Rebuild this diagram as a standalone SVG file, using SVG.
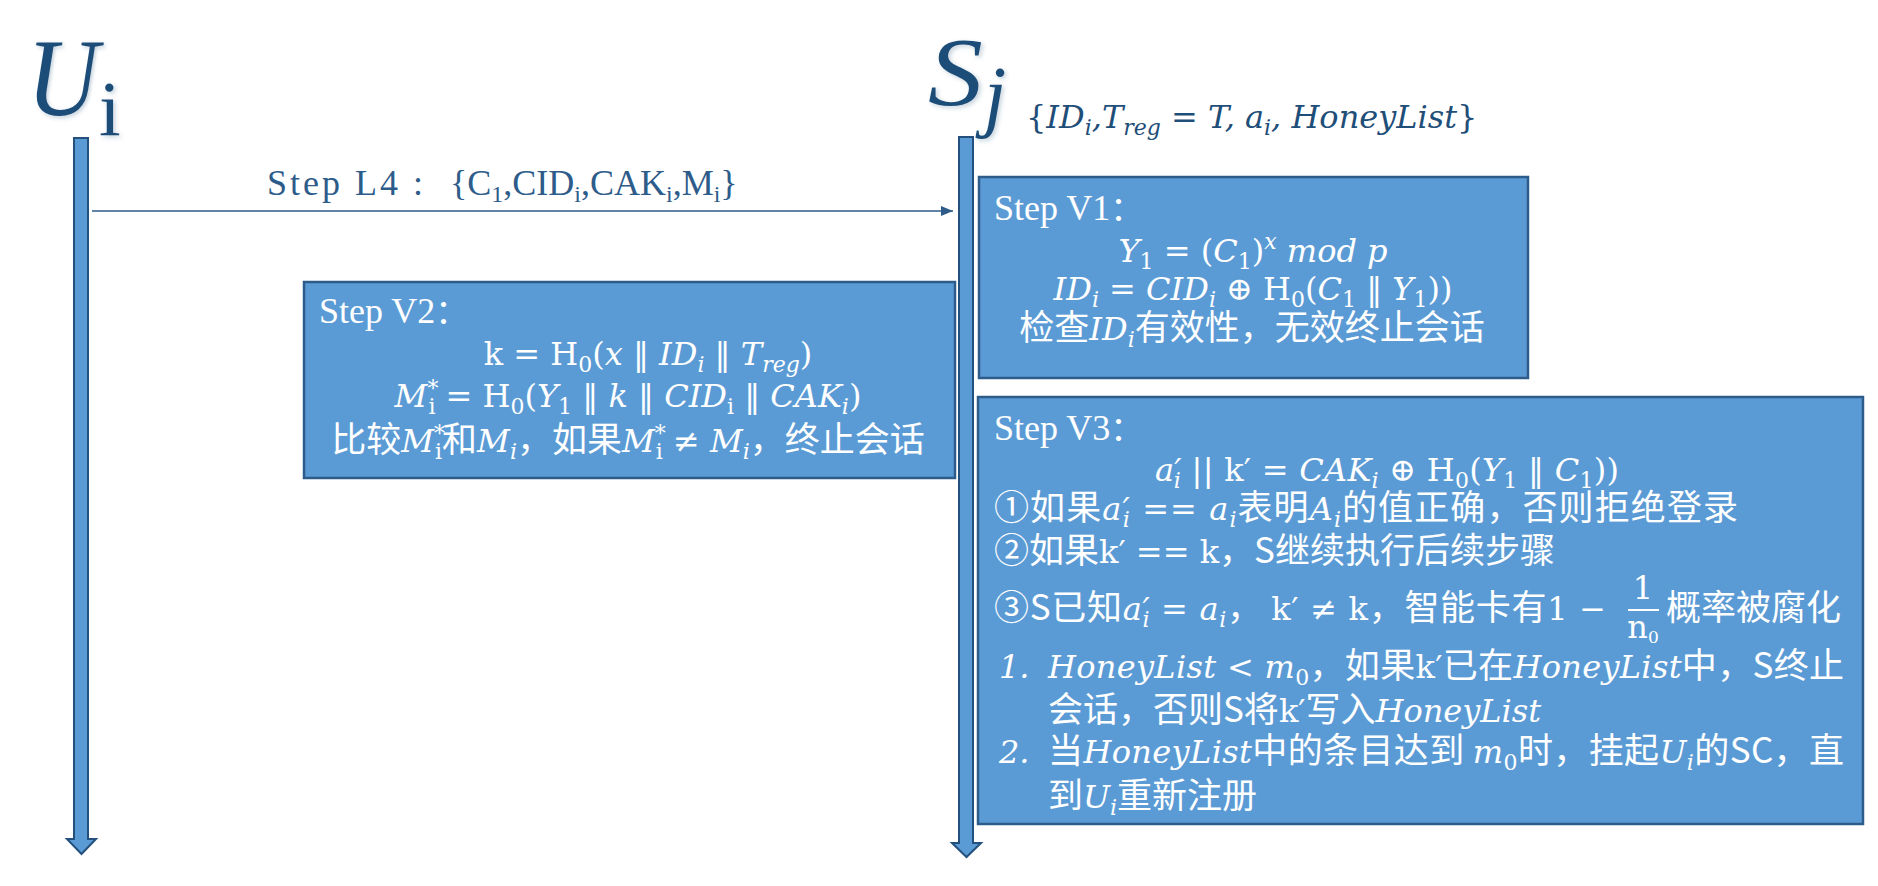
<svg xmlns="http://www.w3.org/2000/svg" width="1878" height="886" viewBox="0 0 1878 886">
<defs>
<style>
.t{fill:#fff;font-family:"Noto Sans CJK SC",sans-serif;font-size:35px}
.mi{font-family:"DejaVu Serif",serif;font-style:italic;font-size:32px}
.mr{font-family:"DejaVu Serif",serif;font-style:normal;font-size:32px}
.sb{font-size:22px}
.st{fill:#fff;font-family:"Liberation Serif",serif;font-size:36px}
.c{text-anchor:middle}
.box{fill:#5B9BD5;stroke:#2E5C8A;stroke-width:2.5}
.life{fill:#5B9BD5;stroke:#24507D;stroke-width:2}
.title{fill:#1F4E79;font-family:"Liberation Serif",serif}
</style>
<filter id="sh" x="-20%" y="-20%" width="140%" height="140%">
<feDropShadow dx="2" dy="2" stdDeviation="2" flood-color="#1F4E79" flood-opacity="0.25"/>
</filter>
<marker id="ah" markerWidth="12" markerHeight="10" refX="12" refY="5" orient="auto" markerUnits="userSpaceOnUse">
<path d="M0,0 L12,5 L0,10 Z" fill="#2E5C8A"/>
</marker>
</defs>
<rect width="1878" height="886" fill="#fff"/>

<g id="Ui">
<text class="title" transform="translate(27,115) scale(0.9,1)" font-size="110" font-style="italic" filter="url(#sh)">U</text>
<text class="title" x="99" y="135" font-size="78" filter="url(#sh)">i</text>
<path class="life" d="M74,138 H88 V839 H96 L81.5,854 L67,839 H74 Z"/>
</g>

<g id="Sj">
<text class="title" transform="translate(928,105) scale(1.12,1)" font-size="98" font-style="italic" filter="url(#sh)">S</text>
<text class="title" x="984" y="122" font-size="80" font-style="italic" filter="url(#sh)">j</text>
<text x="1026" y="128" fill="#1F4E79" font-family="DejaVu Serif,serif" font-style="italic" font-size="32"><tspan font-style="normal">{</tspan>ID<tspan font-size="22" baseline-shift="-7">i</tspan>,T<tspan font-size="22" baseline-shift="-7">reg</tspan><tspan font-style="normal"> = </tspan>T, a<tspan font-size="22" baseline-shift="-7">i</tspan>, HoneyList<tspan font-style="normal">}</tspan></text>
<path class="life" d="M959,137 H973 V843 H981 L966.5,857 L952,843 H959 Z"/>
</g>

<g id="connectors">
<line x1="92" y1="211" x2="953" y2="211" stroke="#2E5C8A" stroke-width="1.6" marker-end="url(#ah)"/>
<text x="267" y="195" fill="#2E5C8A" font-family="Liberation Serif,serif" font-size="36" textLength="156">Step L4 :</text>
<text x="450" y="195" fill="#2E5C8A" font-family="Liberation Serif,serif" font-size="36">{C<tspan font-size="24" baseline-shift="-7">1</tspan>,CID<tspan font-size="24" baseline-shift="-7">i</tspan>,CAK<tspan font-size="24" baseline-shift="-7">i</tspan>,M<tspan font-size="24" baseline-shift="-7">i</tspan>}</text>
</g>

<g id="V2">
<rect class="box" x="304" y="282" width="651" height="196"/>
<text class="st" x="319" y="323">Step V2<tspan font-family="Noto Sans CJK SC,sans-serif" font-size="33">：</tspan></text>
<text class="t c" x="648" y="365"><tspan class="mr">k = H<tspan class="sb" baseline-shift="-7">0</tspan>(</tspan><tspan class="mi">x</tspan><tspan class="mr"> ‖ </tspan><tspan class="mi">ID<tspan class="sb" baseline-shift="-7">i</tspan></tspan><tspan class="mr"> ‖ </tspan><tspan class="mi">T<tspan class="sb" baseline-shift="-7">reg</tspan></tspan><tspan class="mr">)</tspan></text>
<text class="t c" x="628" y="407"><tspan class="mi">M<tspan class="sb" baseline-shift="11">*</tspan><tspan class="sb" font-style="normal" dx="-10" baseline-shift="-7">i</tspan></tspan><tspan class="mr"> = H<tspan class="sb" baseline-shift="-7">0</tspan>(</tspan><tspan class="mi">Y<tspan class="sb" font-style="normal" baseline-shift="-7">1</tspan></tspan><tspan class="mr"> ‖ </tspan><tspan class="mi">k</tspan><tspan class="mr"> ‖ </tspan><tspan class="mi">CID<tspan class="sb" font-style="normal" baseline-shift="-7">i</tspan></tspan><tspan class="mr"> ‖ </tspan><tspan class="mi">CAK<tspan class="sb" baseline-shift="-7">i</tspan></tspan><tspan class="mr">)</tspan></text>
<text class="t c" x="628" y="452">比较<tspan class="mi">M<tspan class="sb" baseline-shift="11">*</tspan><tspan class="sb" font-style="normal" dx="-10" baseline-shift="-7">i</tspan></tspan>和<tspan class="mi">M<tspan class="sb" baseline-shift="-7">i</tspan></tspan>，如果<tspan class="mi">M<tspan class="sb" baseline-shift="11">*</tspan><tspan class="sb" font-style="normal" dx="-10" baseline-shift="-7">i</tspan></tspan><tspan class="mr"> ≠ </tspan><tspan class="mi">M<tspan class="sb" baseline-shift="-7">i</tspan></tspan>，终止会话</text>
</g>

<g id="V1">
<rect class="box" x="979" y="177" width="549" height="201"/>
<text class="st" x="994" y="220">Step V1<tspan font-family="Noto Sans CJK SC,sans-serif" font-size="33">：</tspan></text>
<text class="t c" x="1253" y="262" font-size="33"><tspan class="mi" font-size="33">Y<tspan class="sb" font-style="normal" baseline-shift="-7">1</tspan></tspan><tspan class="mr" font-size="33"> =  (</tspan><tspan class="mi" font-size="33">C<tspan class="sb" font-style="normal" baseline-shift="-7">1</tspan></tspan><tspan class="mr" font-size="33">)</tspan><tspan class="mi" font-size="33"><tspan class="sb" baseline-shift="13">x</tspan> mod p</tspan></text>
<text class="t c" x="1253" y="300"><tspan class="mi" font-size="33">ID<tspan class="sb" baseline-shift="-7">i</tspan></tspan><tspan class="mr" font-size="33"> = </tspan><tspan class="mi" font-size="33">CID<tspan class="sb" baseline-shift="-7">i</tspan></tspan><tspan class="mr" font-size="33"> ⊕ H<tspan class="sb" baseline-shift="-7">0</tspan>(</tspan><tspan class="mi" font-size="33">C<tspan class="sb" font-style="normal" baseline-shift="-7">1</tspan></tspan><tspan class="mr" font-size="33"> ‖ </tspan><tspan class="mi" font-size="33">Y<tspan class="sb" font-style="normal" baseline-shift="-7">1</tspan></tspan><tspan class="mr" font-size="33">))</tspan></text>
<text class="t c" x="1252" y="340">检查<tspan class="mi">ID<tspan class="sb" baseline-shift="-7">i</tspan></tspan>有效性，无效终止会话</text>
</g>

<g id="V3">
<rect class="box" x="978" y="397" width="885" height="427"/>
<text class="st" x="994" y="440">Step V3<tspan font-family="Noto Sans CJK SC,sans-serif" font-size="33">：</tspan></text>
<text class="t" x="1155" y="481" textLength="464"><tspan class="mi" font-size="31">a′<tspan class="sb" dx="-8" baseline-shift="-7">i</tspan></tspan><tspan class="mr" font-size="31"> || k′ = </tspan><tspan class="mi" font-size="31">CAK<tspan class="sb" baseline-shift="-7">i</tspan></tspan><tspan class="mr" font-size="31"> ⊕ H<tspan class="sb" baseline-shift="-7">0</tspan>(</tspan><tspan class="mi" font-size="31">Y<tspan class="sb" font-style="normal" baseline-shift="-7">1</tspan></tspan><tspan class="mr" font-size="31"> ‖ </tspan><tspan class="mi" font-size="31">C<tspan class="sb" font-style="normal" baseline-shift="-7">1</tspan></tspan><tspan class="mr" font-size="31">))</tspan></text>
<text class="t" x="994" y="520" textLength="744">①如果<tspan class="mi">a′<tspan class="sb" dx="-8" baseline-shift="-7">i</tspan></tspan><tspan class="mr">  == </tspan><tspan class="mi">a<tspan class="sb" baseline-shift="-7">i</tspan></tspan>表明<tspan class="mi">A<tspan class="sb" baseline-shift="-7">i</tspan></tspan>的值正确，否则拒绝登录</text>
<text class="t" x="994" y="563">②如果<tspan class="mr">k′ == k</tspan>，S继续执行后续步骤</text>
<text class="t" x="994" y="620" textLength="612">③S已知<tspan class="mi">a′<tspan class="sb" dx="-8" baseline-shift="-7">i</tspan></tspan><tspan class="mr"> = </tspan><tspan class="mi">a<tspan class="sb" baseline-shift="-7">i</tspan></tspan>，  <tspan class="mr">k′ ≠ k</tspan>，智能卡有<tspan class="mr">1 −</tspan></text>
<text class="t c" x="1643" y="599"><tspan class="mr" font-size="26">1</tspan></text>
<line x1="1628" y1="610" x2="1659" y2="610" stroke="#fff" stroke-width="2"/>
<text class="t c" x="1643" y="638"><tspan class="mr" font-size="24">n<tspan font-size="17" baseline-shift="-5">0</tspan></tspan></text>
<text class="t" x="1666" y="620">概率被腐化</text>
<text class="t" x="999" y="678"><tspan class="mi">1.</tspan></text>
<text class="t" x="1048" y="678" textLength="796"><tspan class="mi">HoneyList</tspan><tspan class="mr"> &lt; </tspan><tspan class="mi">m<tspan class="sb" font-style="normal" baseline-shift="-7">0</tspan></tspan>，如果<tspan class="mr">k′</tspan>已在<tspan class="mi">HoneyList</tspan>中，S终止</text>
<text class="t" x="1048" y="722">会话，否则S将<tspan class="mr">k′</tspan>写入<tspan class="mi">HoneyList</tspan></text>
<text class="t" x="999" y="763"><tspan class="mi">2.</tspan></text>
<text class="t" x="1048" y="763" textLength="796">当<tspan class="mi">HoneyList</tspan>中的条目达到 <tspan class="mi">m<tspan class="sb" font-style="normal" baseline-shift="-7">0</tspan></tspan>时，挂起<tspan class="mi">U<tspan class="sb" baseline-shift="-7">i</tspan></tspan>的SC，直</text>
<text class="t" x="1048" y="808">到<tspan class="mi">U<tspan class="sb" baseline-shift="-7">i</tspan></tspan>重新注册</text>
</g>
</svg>
